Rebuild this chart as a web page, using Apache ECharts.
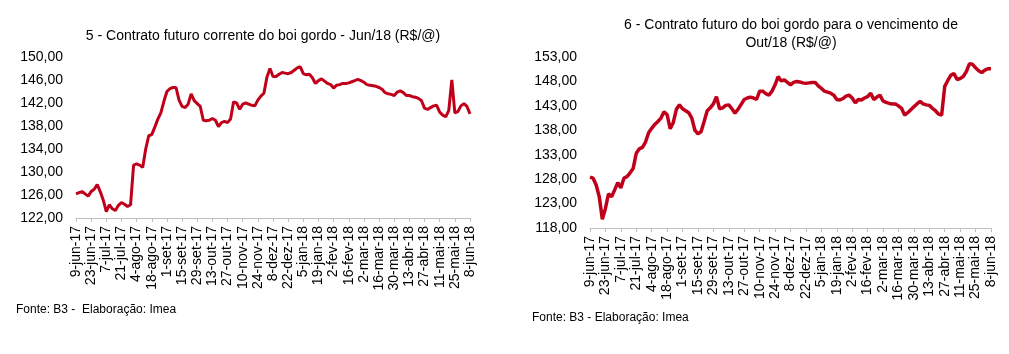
<!DOCTYPE html>
<html>
<head>
<meta charset="utf-8">
<script src="https://cdn.jsdelivr.net/npm/echarts@6/dist/echarts.min.js"></script>
<style>
  html, body { margin: 0; padding: 0; background: #fff; }
  #chart { width: 1009px; height: 354px; }
</style>
</head>
<body>
<div id="chart"></div>
<script>
// rótulos do eixo x (a cada 2 semanas)
const tickLabels = ['9-jun-17', '23-jun-17', '7-jul-17', '21-jul-17', '4-ago-17', '18-ago-17', '1-set-17',
  '15-set-17', '29-set-17', '13-out-17', '27-out-17', '10-nov-17', '24-nov-17', '8-dez-17', '22-dez-17',
  '5-jan-18', '19-jan-18', '2-fev-18', '16-fev-18', '2-mar-18', '16-mar-18', '30-mar-18', '13-abr-18',
  '27-abr-18', '11-mai-18', '25-mai-18', '8-jun-18']

// contrato corrente Jun/18 (R$/@), um ponto a cada 2 pregões
const jun18 = [126.2, 126.4, 126.6, 126.2, 125.8, 126.6, 127.0, 127.8, 126.6, 125.1,
  123.1, 124.3, 123.6, 123.3, 124.2, 124.7, 124.4, 124.0, 124.3, 131.2,
  131.4, 131.2, 130.8, 134.0, 136.3, 136.5, 137.8, 139.2, 140.3, 142.3,
  144.0, 144.5, 144.7, 144.7, 142.5, 141.4, 141.2, 141.8, 143.6, 142.4,
  141.9, 141.4, 139.0, 138.9, 139.0, 139.3, 139.0, 137.9, 138.6, 138.8,
  138.6, 139.2, 142.2, 142.0, 140.9, 141.8, 142.0, 141.8, 141.6, 141.5,
  142.5, 143.2, 143.7, 146.5, 148.0, 146.6, 146.6, 147.0, 147.3, 147.2,
  147.1, 147.3, 147.7, 148.1, 148.3, 147.1, 146.9, 147.0, 146.4, 145.4,
  145.9, 146.2, 145.8, 145.4, 145.2, 144.6, 145.1, 145.2, 145.4, 145.4,
  145.5, 145.7, 145.9, 146.1, 145.9, 145.6, 145.2, 145.1, 145.0, 144.9,
  144.7, 144.4, 143.8, 143.6, 143.5, 143.3, 143.9, 144.1, 143.8, 143.3,
  143.3, 143.1, 143.0, 142.8, 142.4, 141.1, 140.9, 141.2, 141.5, 141.6,
  140.4, 139.9, 139.6, 140.7, 146.0, 140.3, 140.5, 141.5, 141.9, 141.4,
  140.1]

// vencimento Out/18 (R$/@)
const out18 = [128.4, 128.2, 126.8, 124.4, 119.8, 122.0, 125.0, 124.4, 125.8, 127.3,
  126.2, 128.2, 128.5, 129.3, 130.2, 133.3, 134.2, 134.5, 135.6, 137.5,
  138.4, 139.2, 139.8, 140.5, 141.8, 141.2, 138.3, 139.6, 142.3, 143.2,
  142.4, 142.0, 141.6, 140.5, 138.0, 137.3, 137.7, 139.8, 142.0, 142.6,
  143.4, 144.9, 142.4, 142.6, 143.1, 143.2, 142.4, 141.5, 142.3, 143.3,
  144.3, 144.6, 144.8, 144.6, 144.3, 146.0, 146.0, 145.5, 145.2, 146.0,
  147.3, 149.0, 148.1, 148.3, 147.8, 147.3, 147.8, 148.0, 147.9, 147.7,
  147.6, 147.7, 147.8, 147.8, 147.1, 146.6, 146.0, 145.8, 145.6, 145.2,
  144.3, 144.2, 144.5, 145.0, 145.2, 144.6, 143.6, 144.3, 144.2, 144.6,
  144.9, 145.6, 144.3, 144.8, 145.2, 144.0, 143.7, 143.5, 143.4, 143.4,
  143.0, 142.5, 141.1, 141.6, 142.2, 142.8, 143.4, 143.9, 143.4, 143.2,
  143.1, 142.5, 142.0, 141.3, 141.1, 147.0, 148.2, 149.3, 149.6, 148.4,
  148.6, 149.0, 150.0, 151.6, 151.5, 150.8, 150.2, 149.8, 150.3, 150.6,
  150.6]

// categorias: cada rótulo seguido de 4 pontos intermediários
const categories = []
tickLabels.forEach((lab, i) => {
  categories.push(lab)
  if (i < tickLabels.length - 1) {
    for (let k = 1; k < 5; k++) categories.push('p' + (i * 5 + k))
  }
})

const font = "'Liberation Sans', Arial, sans-serif"
const red = '#C0001A'
const fmt = v => v.toFixed(2).replace('.', ',')

const xAxisBase = {
  type: 'category',
  data: categories,
  boundaryGap: false,
  axisLine: { lineStyle: { color: '#bfbfbf' } },
  axisTick: { interval: 4, length: 4, lineStyle: { color: '#bfbfbf' } },
  axisLabel: { interval: 4, rotate: 90, margin: 8, color: '#000', fontSize: 14, fontFamily: font },
  splitLine: { show: false }
}
const yAxisBase = {
  type: 'value',
  axisLine: { show: false },
  axisTick: { show: false },
  splitLine: { show: false },
  axisLabel: { margin: 13, color: '#000', fontSize: 14, fontFamily: font, formatter: fmt }
}

const chart = echarts.init(document.getElementById('chart'))
chart.setOption({
  animation: false,
  backgroundColor: '#fff',
  grid: [
    { left: 76, top: 57, width: 394, height: 161 },
    { left: 590, top: 57, width: 401, height: 171 }
  ],
  xAxis: [
    Object.assign({ gridIndex: 0 }, xAxisBase),
    Object.assign({ gridIndex: 1 }, xAxisBase)
  ],
  yAxis: [
    Object.assign({ gridIndex: 0, min: 122, max: 150, interval: 4 }, yAxisBase),
    Object.assign({ gridIndex: 1, min: 118, max: 153, interval: 5 }, yAxisBase)
  ],
  series: [
    { type: 'line', xAxisIndex: 0, yAxisIndex: 0, data: jun18, showSymbol: false,
      lineStyle: { color: red, width: 3 }, itemStyle: { color: red } },
    { type: 'line', xAxisIndex: 1, yAxisIndex: 1, data: out18, showSymbol: false,
      lineStyle: { color: red, width: 3.5 }, itemStyle: { color: red } }
  ],
  graphic: [
    { type: 'text', x: 263, y: 36, style: { text: '5 - Contrato futuro corrente do boi gordo - Jun/18 (R$/@)',
      textAlign: 'center', textVerticalAlign: 'middle', fontSize: 14, fontFamily: font, fill: '#000' } },
    { type: 'text', x: 791, y: 34, style: { text: '6 - Contrato futuro do boi gordo para o vencimento de\nOut/18 (R$/@)',
      textAlign: 'center', textVerticalAlign: 'middle', lineHeight: 18, fontSize: 14, fontFamily: font, fill: '#000' } },
    { type: 'text', x: 16, y: 310, style: { text: 'Fonte: B3 -  Elaboração: Imea',
      textVerticalAlign: 'middle', fontSize: 12, fontFamily: font, fill: '#000' } },
    { type: 'text', x: 532, y: 318, style: { text: 'Fonte: B3 - Elaboração: Imea',
      textVerticalAlign: 'middle', fontSize: 12, fontFamily: font, fill: '#000' } }
  ]
})
</script>
</body>
</html>
